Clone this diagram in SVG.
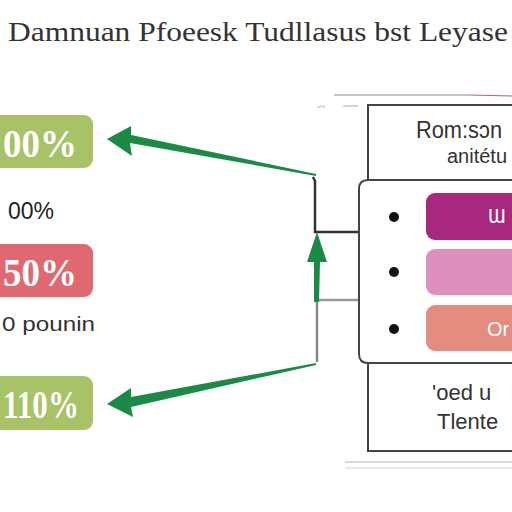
<svg xmlns="http://www.w3.org/2000/svg" width="512" height="512" viewBox="0 0 512 512">
<defs>
<style>
.title{font-family:"Liberation Serif",serif;font-size:28px;fill:#333}
.big{font-family:"Liberation Serif",serif;font-size:39px;font-weight:bold;fill:#fff}
.lbl{font-family:"Liberation Sans",sans-serif;font-size:23px;fill:#222}
.sans{font-family:"Liberation Sans",sans-serif;fill:#333}
.box{fill:#fff;stroke:#444;stroke-width:2}
.arrow{fill:#1b8a45}
.bar{font-family:"Liberation Sans",sans-serif;font-size:20px;fill:#fff}
</style>
</defs>
<rect width="512" height="512" fill="#fff"/>
<text class="title" x="8" y="41" textLength="500" lengthAdjust="spacingAndGlyphs">Damnuan Pfoeesk Tudllasus bst Leyase</text>

<g id="left-1">
<rect x="-10" y="115" width="103" height="53" rx="9" fill="#a7c267"/>
<text class="big" x="3" y="157" textLength="74" lengthAdjust="spacingAndGlyphs">00%</text>
</g>
<g id="left-label-1"><text class="lbl" x="54" y="219" text-anchor="end">00%</text></g>
<g id="left-2">
<rect x="-10" y="244" width="103" height="53" rx="9" fill="#e06870"/>
<text class="big" x="3" y="286" textLength="74" lengthAdjust="spacingAndGlyphs">50%</text>
</g>
<g id="left-label-2"><text class="sans" x="2" y="331" font-size="21" textLength="93" lengthAdjust="spacingAndGlyphs">0 pounin</text></g>
<g id="left-3">
<rect x="-10" y="376" width="103" height="54" rx="9" fill="#a7c267"/>
<text class="big" x="3" y="418" textLength="76" lengthAdjust="spacingAndGlyphs">110%</text>
</g>

<g id="connectors">
<polyline points="313,177 315,181 315,232 358,232" fill="none" stroke="#333" stroke-width="2.5"/>
<polyline points="317,300 358,300" fill="none" stroke="#999" stroke-width="2.5"/>
<polyline points="317,300 317,362" fill="none" stroke="#888" stroke-width="2.5"/>
<path class="arrow" d="M316,176 L130,143 L132,156 L107,139 L131,126 L131,135 L316,174 Z"/>
<path class="arrow" d="M316,363 L131,397 L131,388 L107,404 L133,417 L131,407 L316,365 Z"/>
<path class="arrow" d="M314,302 L314,262 L307,262 L317,232 L327,262 L320,262 L319,302 Z"/>
</g>

<g id="top-marks">
<line x1="334" y1="95" x2="470" y2="95" stroke="#888" stroke-width="1"/>
<line x1="470" y1="95" x2="512" y2="96" stroke="#b06070" stroke-width="1"/>
<text x="317" y="108" font-family="Liberation Sans,sans-serif" font-size="4" fill="#999">a/74</text>
<line x1="343" y1="106" x2="358" y2="106" stroke="#aaa" stroke-width="1"/>
</g>

<g id="panel-top">
<rect class="box" x="368" y="105" width="160" height="76"/>
<text class="sans" x="416" y="138" font-size="24" textLength="86" lengthAdjust="spacingAndGlyphs">Rom:sɔn</text>
<text class="sans" x="447" y="163" font-size="20">anitétu</text>
</g>

<g id="panel-mid">
<path class="box" d="M512,180 L368,180 Q359,180 359,189 L359,354 Q359,363 368,363 L512,363"/>
<circle cx="394" cy="217" r="5" fill="#111"/>
<circle cx="394" cy="272" r="5" fill="#111"/>
<circle cx="394" cy="329" r="5" fill="#111"/>
<rect x="426" y="193" width="100" height="47" rx="9" fill="#a8287f"/>
<text class="bar" x="488" y="223">Ɯ</text>
<rect x="426" y="249" width="100" height="46" rx="9" fill="#de8fbe"/>
<rect x="426" y="305" width="100" height="46" rx="9" fill="#e48c80"/>
<text class="bar" x="487" y="336">Or</text>
</g>

<g id="panel-bottom">
<rect class="box" x="368" y="363" width="160" height="88"/>
<text class="sans" x="432" y="400" font-size="22">'oed u</text>
<text class="sans" x="437" y="429" font-size="22">Tlente</text>
<line x1="345" y1="462" x2="512" y2="462" stroke="#ccc" stroke-width="1.5"/>
<line x1="345" y1="468" x2="512" y2="468" stroke="#e2e2e2" stroke-width="1.5"/>
</g>
</svg>
